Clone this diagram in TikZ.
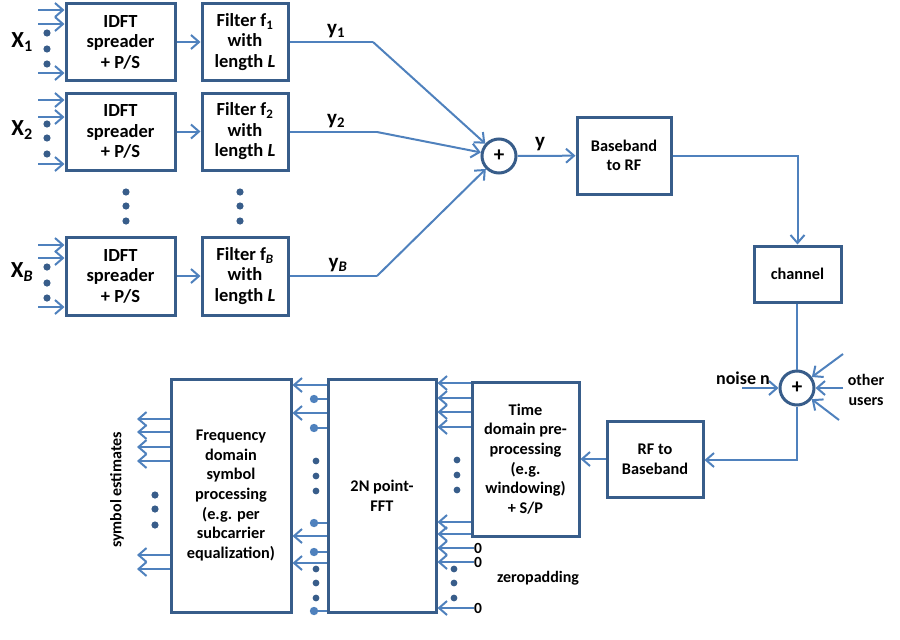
\documentclass[tikz,border=0pt]{standalone}
\usepackage{fontspec}
\setmainfont{Carlito}
\usetikzlibrary{arrows.meta}
\definecolor{boxc}{RGB}{56,93,138}
\definecolor{linec}{RGB}{79,129,189}
\begin{document}
\begin{tikzpicture}[x=1pt,y=-1pt,
  blk/.style={draw=boxc, line width=3pt, fill=white, align=center, inner sep=0pt,
    font=\fontsize{16.3}{19.6}\selectfont\bfseries},
  tblk/.style={blk, font=\fontsize{18.5}{20.5}\selectfont\bfseries},
  arr/.style={draw=linec, line width=2pt, -{Straight Barb[length=8pt,width=14pt,line width=2pt]}},
  ln/.style={draw=linec, line width=2pt},
  sumc/.style={circle, draw=boxc, line width=3pt, fill=white, minimum size=34pt, inner sep=0pt,
    font=\fontsize{21}{22}\selectfont\bfseries},
  lbl/.style={font=\fontsize{16}{20}\selectfont\bfseries, align=center, inner sep=0pt},
  zero/.style={font=\fontsize{15.5}{16}\selectfont\bfseries, inner sep=0pt, anchor=west},
  big/.style={font=\fontsize{23}{24}\selectfont\bfseries, inner sep=0pt},
  ylab/.style={font=\fontsize{21}{22}\selectfont\bfseries, inner sep=0pt}]
\useasboundingbox (0,0) rectangle (900,640);

% ---------- transmitter blocks ----------
\node[tblk, minimum width=109pt, minimum height=77pt] (i1) at (120.5,42) {IDFT\\spreader\\+ P/S};
\node[tblk, minimum width=86pt, minimum height=77pt] (f1) at (245,42) {Filter f\textsubscript{1}\\with\\length \textit{L}};
\node[tblk, minimum width=109pt, minimum height=77pt] (i2) at (120.5,131.5) {IDFT\\spreader\\+ P/S};
\node[tblk, minimum width=86pt, minimum height=77pt] (f2) at (245,131.5) {Filter f\textsubscript{2}\\with\\length \textit{L}};
\node[tblk, minimum width=109pt, minimum height=78pt] (iB) at (120.5,276) {IDFT\\spreader\\+ P/S};
\node[tblk, minimum width=86pt, minimum height=78pt] (fB) at (245,276) {Filter f\textsubscript{\textit{B}}\\with\\length \textit{L}};

\draw[arr] (i1) -- (f1);
\draw[arr] (i2) -- (f2);
\draw[arr] (iB) -- (fB);

% inputs
\node[big] (x1) at (22,42) {X\textsubscript{1}};
\node[big] (x2) at (22,130) {X\textsubscript{2}};
\node[big] (xB) at (22,272) {X\textsubscript{\textit{B}}};
\foreach \yy in {10,24,73} \draw[arr] (38,\yy) -- (i1.west |- 0,\yy);
\foreach \yy in {100,117,164} \draw[arr] (38,\yy) -- (i2.west |- 0,\yy);
\foreach \yy in {245,258,307} \draw[arr] (38,\yy) -- (iB.west |- 0,\yy);
\foreach \yy in {33,49,64,124,138,154,267,283,298} \fill[boxc] (47,\yy) circle (3.6);
\foreach \yy in {192,206,221} { \fill[boxc] (126,\yy) circle (3.6); \fill[boxc] (240,\yy) circle (3.6); }

% summation
\node[sumc] (s1) at (499,156) {+};
\coordinate (k1) at (373,42);
\coordinate (k2) at (377,132);
\coordinate (kB) at (377,276);
\draw[ln] (f1.east |- k1) -- (k1);
\draw[arr] (k1) -- (s1);
\draw[ln] (f2.east |- k2) -- (k2);
\draw[arr] (k2) -- (s1);
\draw[ln] (fB.east |- kB) -- (kB);
\draw[arr] (kB) -- (s1);
\node[ylab] (ly1) at (336,31) {y\textsubscript{1}};
\node[ylab] (ly2) at (336,121) {y\textsubscript{2}};
\node[ylab] (lyB) at (338,265) {y\textsubscript{\textit{B}}};
\node[ylab] (ly) at (540,144) {y};

\node[blk, minimum width=94pt, minimum height=77pt] (bb) at (624,155.5) {Baseband\\to RF};
\draw[arr] (s1) -- (bb);
\node[blk, minimum width=87pt, minimum height=56pt] (ch) at (797.5,274) {channel};
\draw[arr] (bb.east |- 0,156) -| (ch.north);

\node[sumc] (s2) at (797,388) {+};
\draw[ln] (ch.south -| s2) -- (s2);
\coordinate (nz) at (742,388);
\draw[arr] (nz) -- (s2);
\node[lbl, font=\fontsize{18}{20}\selectfont\bfseries] (lnoise) at (743,378) {noise n};
\coordinate (o1) at (843,354);
\coordinate (o2) at (843,388);
\coordinate (o3) at (839,420);
\draw[arr] (o1) -- (s2);
\draw[arr] (o2) -- (s2);
\draw[arr] (o3) -- (s2);
\node[lbl] (lother) at (866,390) {other\\users};

% ---------- receiver ----------
\node[blk, minimum width=96pt, minimum height=76pt] (rf) at (655,459) {RF to\\Baseband};
\draw[arr] (s2) |- (rf.east |- 0,460);
\node[blk, minimum width=107pt, minimum height=154pt] (td) at (525.5,459) {Time\\domain pre-\\processing\\(e.g.\\windowing)\\+ S/P};
\draw[arr] (rf.west |- 0,459) -- (td.east |- 0,459);
\node[blk, minimum width=108pt, minimum height=233pt] (fft) at (382,495.5) {2N point-\\FFT};
\node[blk, minimum width=120pt, minimum height=233pt] (fd) at (231,495.5) {Frequency\\domain\\symbol\\processing\\(e.g. per\\subcarrier\\equalization)};

% time domain -> FFT
\foreach \yy in {383,398,412,427,522,534} \draw[arr] (td.west |- 0,\yy) -- (fft.east |- 0,\yy);
\foreach \yy in {460,475,490} \fill[boxc] (457,\yy) circle (3.4);
% zero padding
\node[zero] (z1) at (474,548) {0};
\node[zero] (z2) at (474,562) {0};
\node[zero] (z3) at (474,608) {0};
\draw[arr] (z1.west) -- (fft.east |- z1.west);
\draw[arr] (z2.west) -- (fft.east |- z2.west);
\draw[arr] (z3.west) -- (fft.east |- z3.west);
\foreach \yy in {569,583,598} \fill[boxc] (454,\yy) circle (3.4);
\node[lbl] (lzp) at (538,578) {zeropadding};

% FFT -> frequency domain
\foreach \yy in {385,413,536,563} \draw[arr] (fft.west |- 0,\yy) -- (fd.east |- 0,\yy);
\foreach \yy in {399,428,523,552,611} {
  \draw[ln] (fft.west |- 0,\yy) -- (314,\yy);
  \fill[linec] (314,\yy) circle (4.2);
}
\foreach \yy in {461,476,491,569,583,598} \fill[boxc] (316,\yy) circle (3.4);

% symbol estimates
\foreach \yy in {419,432,447,461,555,569} \draw[arr] (fd.west |- 0,\yy) -- (137,\yy);
\foreach \yy in {495,509,525} \fill[boxc] (155,\yy) circle (3.6);
\node[lbl, rotate=90] (lse) at (117,490) {symbol estimates};
\end{tikzpicture}
\end{document}
